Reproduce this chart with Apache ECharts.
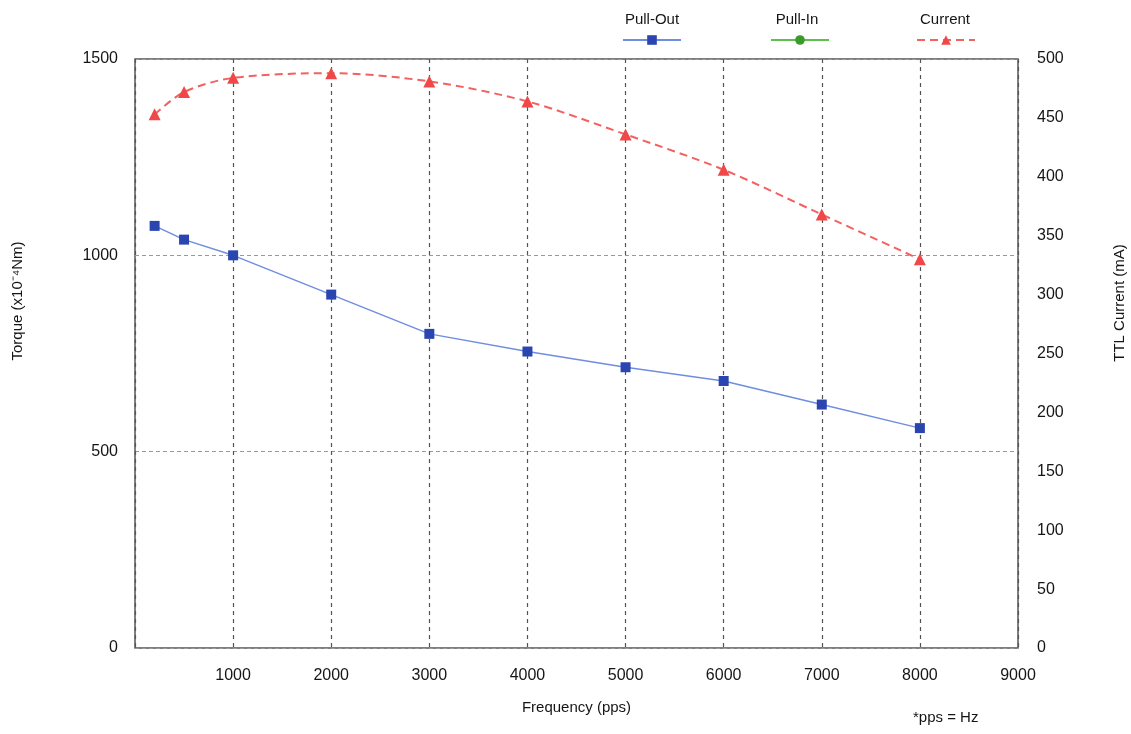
<!DOCTYPE html>
<html>
<head>
<meta charset="utf-8">
<script src="https://cdn.jsdelivr.net/npm/echarts@6/dist/echarts.min.js"></script>
<style>
html,body{margin:0;padding:0;background:#fff;}
#c{width:1131px;height:734px;}
</style>
</head>
<body>
<div id="c"></div>
<script>
var frequency = [200, 500, 1000, 2000, 3000, 4000, 5000, 6000, 7000, 8000];
var pullOut = [1075, 1040, 1000, 900, 800, 755, 715, 680, 620, 560];
var pullIn = [];
var current = [453, 472, 484, 488, 481, 464, 436, 406, 368, 330];
var seriesNames = ['Pull-Out', 'Pull-In', 'Current'];

function pairs(xs, ys) { return ys.map(function (y, i) { return [xs[i], y]; }); }

var font = 'Liberation Sans, Arial, sans-serif';
var txt = '#151515';
var chart = echarts.init(document.getElementById('c'));
var legendLefts = [622, 770, 916];
var legendCenters = [652, 797, 945];
chart.setOption({
  backgroundColor: '#ffffff',
  textStyle: { fontFamily: font },
  grid: { left: 135, right: 113, top: 59, bottom: 86, show: true, borderColor: '#555', borderWidth: 1.5, backgroundColor: 'transparent' },
  legend: seriesNames.map(function (n, i) {
    return { data: [n], left: legendLefts[i], top: 34, padding: 0, itemWidth: 58, itemHeight: 12, itemGap: 0,
      formatter: function () { return ''; }, textStyle: { fontSize: 1 }, selectedMode: false };
  }),
  graphic: seriesNames.map(function (n, i) {
    return { type: 'text', x: legendCenters[i], y: 12, style: { text: n, font: '15px ' + font, fill: txt, textAlign: 'center' } };
  }).concat([
    { type: 'text', x: 913, y: 710, style: { text: '*pps = Hz', font: '15px ' + font, fill: txt } },
    { type: 'text', x: 18, y: 301, rotation: Math.PI / 2, style: { text: 'Torque (x10\u207B\u2074Nm)', font: '15px ' + font, fill: txt, textAlign: 'center', textVerticalAlign: 'middle' } },
    { type: 'text', x: 1120, y: 303, rotation: Math.PI / 2, style: { text: 'TTL Current (mA)', font: '15px ' + font, fill: txt, textAlign: 'center', textVerticalAlign: 'middle' } }
  ]),
  xAxis: {
    type: 'value', min: 0, max: 9000, interval: 1000,
    name: 'Frequency (pps)', nameLocation: 'middle', nameGap: 52,
    nameTextStyle: { fontSize: 15, color: txt, fontFamily: font },
    axisLine: { show: false }, axisTick: { show: false },
    axisLabel: { margin: 20, fontSize: 16, color: txt, fontFamily: font,
      formatter: function (v) { return v === 0 ? '' : String(v); } },
    splitLine: { show: true, lineStyle: { color: '#555', type: [4, 4], width: 1.2 } }
  },
  yAxis: [
    {
      type: 'value', min: 0, max: 1500, interval: 500, position: 'left',
      axisLine: { show: false }, axisTick: { show: false },
      axisLabel: { margin: 17, fontSize: 16, color: txt, fontFamily: font, formatter: function (v) { return String(v); } },
      splitLine: { show: true, lineStyle: { color: '#999', type: [4, 3], width: 1 } }
    },
    {
      type: 'value', min: 0, max: 500, interval: 50, position: 'right',
      axisLine: { show: false }, axisTick: { show: false },
      axisLabel: { margin: 19, fontSize: 16, color: txt, fontFamily: font, formatter: function (v) { return String(v); } },
      splitLine: { show: false }
    }
  ],
  series: [
    { name: 'Pull-Out', type: 'line', data: pairs(frequency, pullOut), yAxisIndex: 0,
      symbol: 'rect', symbolSize: 10, color: '#2a45b0',
      lineStyle: { color: '#6f8ee0', width: 1.5 }, itemStyle: { color: '#2a45b0' } },
    { name: 'Pull-In', type: 'line', data: pullIn, yAxisIndex: 0,
      symbol: 'circle', symbolSize: 10, color: '#3a9a2a',
      lineStyle: { color: '#5cc04a', width: 1.5 }, itemStyle: { color: '#3a9a2a' } },
    { name: 'Current', type: 'line', data: pairs(frequency, current), yAxisIndex: 1,
      smooth: 0.3, symbol: 'triangle', symbolSize: 12, color: '#f04848',
      lineStyle: { color: '#f26060', width: 2, type: [8, 5] }, itemStyle: { color: '#f04848' } }
  ]
});
</script>
</body>
</html>
